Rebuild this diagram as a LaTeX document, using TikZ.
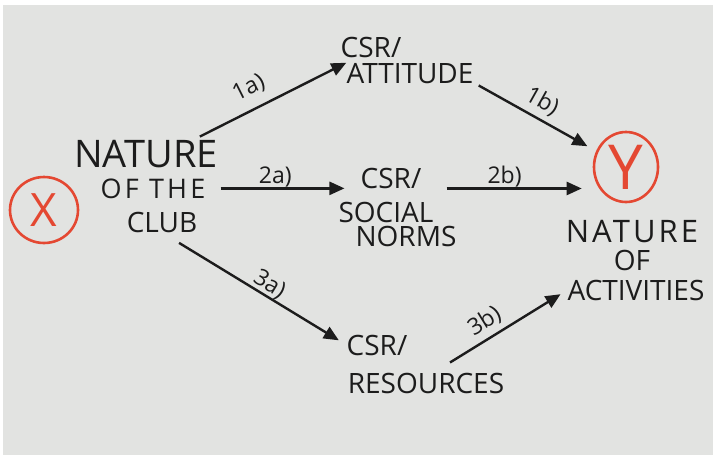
\documentclass[tikz,border=0pt]{standalone}
\usepackage{fontspec}
\setmainfont{Open Sans}
\usetikzlibrary{arrows.meta,shapes.geometric}
\definecolor{ink}{RGB}{28,28,28}
\definecolor{paper}{RGB}{226,227,225}
\definecolor{pen}{RGB}{228,72,50}
\tikzset{
  big/.style={font=\fontsize{38}{40}\selectfont,text=ink,inner sep=0pt,anchor=base},
  word/.style={font=\fontsize{28}{30}\selectfont,text=ink,inner sep=0pt,anchor=base},
  wide/.style={font=\fontsize{27}{29}\selectfont\addfontfeature{LetterSpace=12},
    text=ink,inner sep=0pt,anchor=base},
  var/.style={ellipse,draw=pen,line width=2.6pt,text=pen,inner sep=0pt},
  arr/.style={-{Triangle[length=15pt,width=13pt]},line width=2.4pt,draw=ink},
  lbl/.style={font=\fontsize{23}{25}\selectfont,text=ink,sloped,inner sep=0pt},
}
\begin{document}
\begin{tikzpicture}[x=1pt,y=-1pt]
  \useasboundingbox (0,0) rectangle (717,459);
  \fill[white] (0,0) rectangle (717,459);
  \fill[paper] (3,5) rectangle (713,455);
  % left
  \node[var,minimum width=68pt,minimum height=66pt,
    font=\fontsize{46}{48}\selectfont] (xvar) at (44,210) {X};
  \node[big] (club1) at (146,167) {NATURE};
  \node[wide] (club2) at (153,198) {OF THE};
  \node[word] (club3) at (162,232) {CLUB};
  % middle
  \node[word] (att1) at (371,57) {CSR/};
  \node[word] (att2) at (410,83) {ATTITUDE};
  \node[word] (norms1) at (391,188) {CSR/};
  \node[word] (norms2) at (386,222) {SOCIAL};
  \node[word] (norms3) at (406,246) {NORMS};
  \node[word] (res1) at (377,355) {CSR/};
  \node[word] (res2) at (426,393) {RESOURCES};
  % right
  \node[var,minimum width=64pt,minimum height=70pt,
    font=\fontsize{62}{64}\selectfont] (yvar) at (626,167) {Y};
  \node[word,font=\fontsize{31}{33}\selectfont\addfontfeature{LetterSpace=10}]
    (act1) at (632,242) {NATURE};
  \node[word] (act2) at (632,270) {OF};
  \node[word] (act3) at (636,300) {ACTIVITIES};
  % paths
  \draw[arr] ([xshift=-18pt,yshift=3pt]club1.north east) -- (att2.north west)
    node[lbl,above=10pt,pos=0.4] {1a)};
  \draw[arr,shorten >=10pt] ([xshift=5pt,yshift=-2pt]att2.south east) -- (yvar.152)
    node[lbl,above=5pt,pos=0.47] {1b)};
  \draw[arr,shorten <=15pt,shorten >=16pt] (club2.east) -- (club2.east -| norms1.west)
    node[lbl,above=0pt,pos=0.45] {2a)};
  \draw[arr,shorten <=25pt,shorten >=11pt] (norms1.south east) -- (norms1.south east -| yvar.west)
    node[lbl,above=0pt,pos=0.485] {2b)};
  \draw[arr,shorten <=20pt,shorten >=9pt] (club3.south) -- (res1.west)
    node[lbl,above=0pt,pos=0.55] {3a)};
  \draw[arr,shorten >=8pt] ([xshift=24pt,yshift=10pt]res2.north) -- (act3.west)
    node[lbl,above=5pt,pos=0.37] {3b)};
\end{tikzpicture}
\end{document}
